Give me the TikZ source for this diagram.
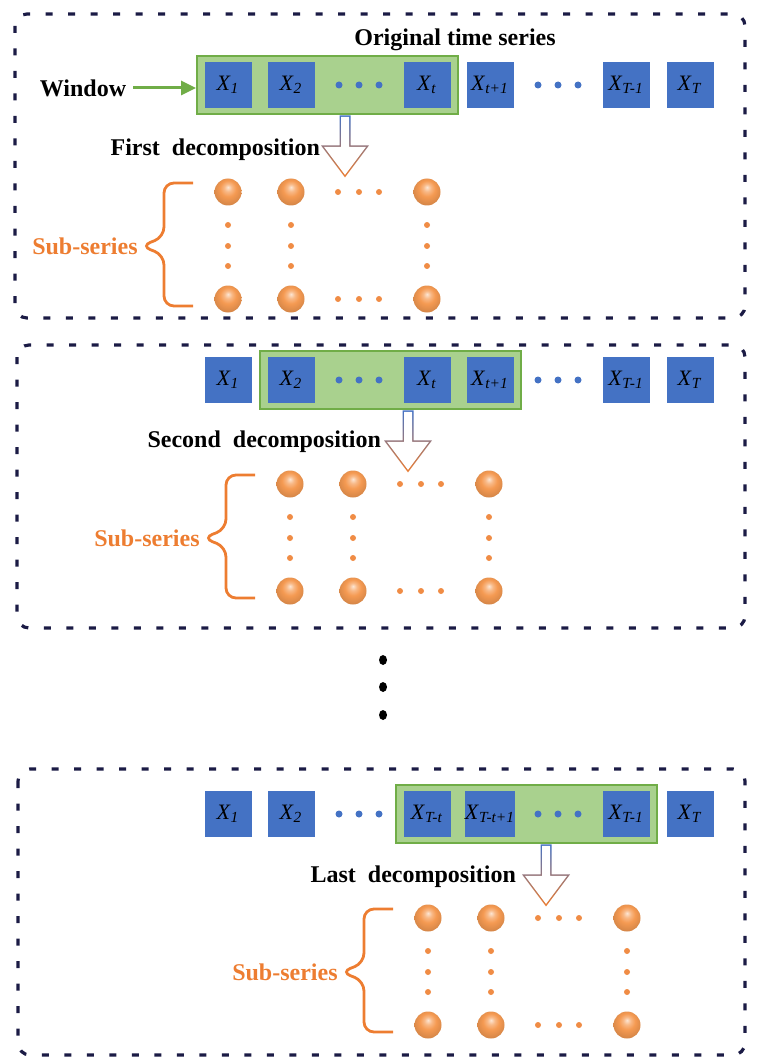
\documentclass[tikz,border=0pt]{standalone}
\usepackage{fontspec}
\setmainfont{Liberation Serif}
\usetikzlibrary{positioning,fit,backgrounds,arrows.meta}
\definecolor{cellblue}{HTML}{4472C4}
\definecolor{wingreen}{HTML}{70AD47}
\definecolor{winfill}{HTML}{A9D18E}
\definecolor{subor}{HTML}{ED7D31}
\definecolor{dotorange}{HTML}{F08C45}
\definecolor{sphereorange}{HTML}{F59A52}
\definecolor{panelnavy}{HTML}{1B1B45}
\pgfdeclareradialshading{orangeball}{\pgfpoint{0bp}{9bp}}{color(0bp)=(sphereorange!25!white); color(7bp)=(sphereorange!70!white); color(15bp)=(sphereorange); color(30bp)=(sphereorange!85!black); color(50bp)=(sphereorange!85!black)}
\newcommand{\xs}[1]{\textit{X}\textsubscript{\textit{#1}}}
\tikzset{decomp/.pic={
   \shade[top color=cellblue,bottom color=subor] (-5.5,0) -- (5.5,0) -- (5.5,30) -- (24,30) -- (0,62) -- (-24,30) -- (-5.5,30) -- cycle;
   \fill[white] (-4,1.5) -- (4,1.5) -- (4,31.5) -- (21,31.5) -- (0,59.5) -- (-21,31.5) -- (-4,31.5) -- cycle;
}}

\begin{document}
\begin{tikzpicture}[x=0.5pt,y=-0.5pt,
   cell/.style={fill=cellblue,minimum width=23.5pt,minimum height=23pt,inner sep=0pt,font=\fontsize{11}{13}\selectfont},
   window/.style={draw=wingreen,fill=winfill,line width=1pt,inner xsep=3.5pt,inner ysep=3pt},
   panel/.style={draw=panelnavy,line width=1.6pt,dash pattern=on 3.5pt off 7.75pt,rounded corners=6pt},
   sphere/.style={circle,minimum size=13.5pt,inner sep=0pt,shading=orangeball},
   heading/.style={font=\fontsize{12}{14}\selectfont\bfseries},
   brace/.style={draw=subor,line width=1.4pt,rounded corners=5pt}]
\useasboundingbox (0,0) rectangle (759,1064);

\draw[panel] (15,14) rectangle (745,318);
\draw[panel] (17,345) rectangle (745,628);
\draw[panel] (18,769) rectangle (745,1055);

\foreach \y/\a/\b [count=\p] in {85/t/t+1, 380/t/t+1, 814/T-t/T-t+1} {
   \foreach \x/\s [count=\i] in {228/1, 291/2, 427/\a, 490/\b, 626/T-1, 690/T}
      \node[cell] (c\p-\i) at (\x,\y) {\xs{\s}};
   \foreach \x in {339,359,379,538,558,578}
      \fill[cellblue] (\x,\y) circle (1.75pt);
}

\begin{scope}[on background layer]
   \node[window,fit=(c1-1)(c1-3)] (w1) {};
   \node[window,fit=(c2-2)(c2-4)] (w2) {};
   \node[window,fit=(c3-3)(c3-5)] (w3) {};
\end{scope}

\node[heading] (orig) at (455,40) {Original time series};
\node[heading] (win) at (83,88) {Window};
\draw[-{Triangle[length=7.5pt,width=7pt]},draw=wingreen,fill=wingreen,line width=1.5pt] (win.east) -- (win.east -| w1.west);

\pic at (345,0 |- w1.south) {decomp};
\pic at (408,0 |- w2.south) {decomp};
\pic at (546,0 |- w3.south) {decomp};
\node[heading,anchor=east] (first) at (327,150) {First\ \ decomposition};
\node[heading,anchor=east] (second) at (388,442) {Second\ \ decomposition};
\node[heading,anchor=east] (last) at (523,877) {Last\ \ decomposition};

\foreach \dx/\dy [count=\p] in {0/0, 62/292, 200/726} {
   \begin{scope}[shift={(\dx,\dy)}]
      \foreach \x [count=\i] in {228,291,427} {
         \node[sphere] (s\p-\i) at (\x,192) {};
         \node[sphere] (t\p-\i) at (\x,299) {};
         \foreach \y in {225,246,266}
            \fill[dotorange] (\x,\y) circle (1.5pt);
      }
      \foreach \x in {338,359,379} {
         \fill[dotorange] (\x,192) circle (1.5pt);
         \fill[dotorange] (\x,299) circle (1.5pt);
      }
      \draw[brace] (193,183) -- (164,183) -- (164,237) -- (141,246) -- (164,255) -- (164,306) -- (193,306);
      \node[heading,text=subor,anchor=east,inner sep=0pt] (sub\p) at (138,246) {Sub-series};
   \end{scope}
}

\foreach \y in {660,687,715}
   \fill (383,\y) ellipse (2pt and 2.5pt);
\end{tikzpicture}
\end{document}
